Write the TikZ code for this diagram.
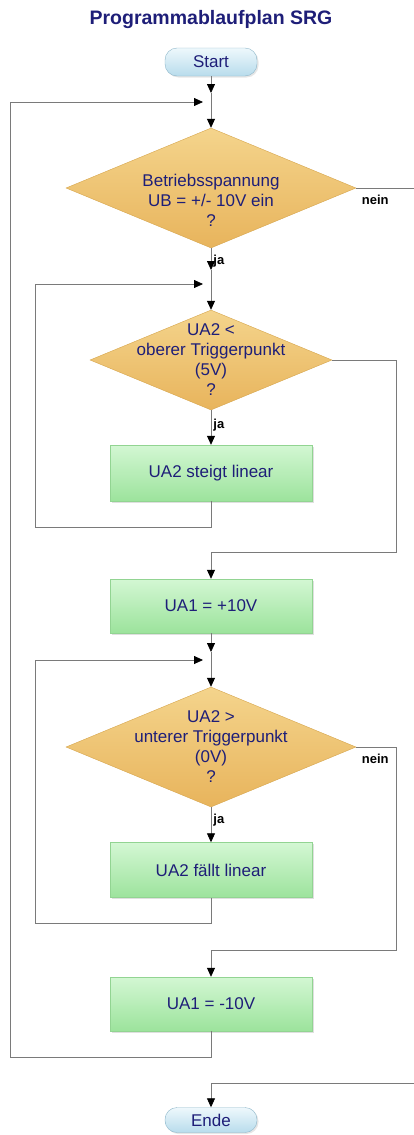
\documentclass[tikz,border=0pt]{standalone}
\usepackage{fontspec}
\setmainfont{Liberation Sans}
\usetikzlibrary{arrows.meta,shapes.geometric,shadows}

\definecolor{navy}{HTML}{1E1E78}
\definecolor{linegray}{HTML}{7A7A7A}
\definecolor{termtop}{HTML}{EEF8FC}
\definecolor{termbot}{HTML}{B8DCEC}
\definecolor{termline}{HTML}{8DB6C9}
\definecolor{dectop}{HTML}{F4D48C}
\definecolor{decbot}{HTML}{E8B45C}
\definecolor{decline}{HTML}{D6A54C}
\definecolor{proctop}{HTML}{D3F7D3}
\definecolor{procbot}{HTML}{9CE39C}
\definecolor{procline}{HTML}{92D492}

\tikzset{
  title/.style={text=navy, font=\bfseries\fontsize{19.5}{22}\selectfont},
  terminal/.style={draw=termline, rounded corners=12pt, top color=termtop,
    bottom color=termbot, minimum width=92pt, text=navy,
    font=\fontsize{17}{20}\selectfont,
    drop shadow={shadow xshift=1.5pt, shadow yshift=-1.5pt, opacity=0.2}},
  decision/.style={diamond, draw=decline, top color=dectop,
    bottom color=decbot, inner sep=0pt},
  dectext/.style={text=navy, align=center, font=\fontsize{17}{20}\selectfont},
  process/.style={rectangle, draw=procline, top color=proctop,
    bottom color=procbot, minimum width=202pt, text=navy,
    font=\fontsize{17}{20}\selectfont,
    drop shadow={shadow xshift=1.5pt, shadow yshift=-1.5pt, opacity=0.25}},
  line/.style={draw=linegray, line width=0.8pt},
  arr/.style={line, -{Triangle[width=8pt,length=9pt,color=black]}},
  lbl/.style={font=\bfseries\fontsize{13}{15}\selectfont, inner sep=1pt},
}

\begin{document}
\begin{tikzpicture}[x=1pt, y=-1pt]
    \useasboundingbox (0,0) rectangle (414,1135);

    % Knoten
    \node[title] (title) at (211,20) {Programmablaufplan SRG};
    \node[terminal, minimum height=28pt] (st) at (211,62) {Start};
    \node[decision, minimum width=290pt, minimum height=120pt,
      label={[dectext, yshift=-12pt]center:{Betriebsspannung\\UB = +/- 10V ein\\?}}]
      (d1) at (211,188) {};
    \node[decision, minimum width=242pt, minimum height=100pt,
      label={[dectext]center:{UA2 <\\oberer Triggerpunkt\\(5V)\\?}}]
      (d2) at (211,360) {};
    \node[process, minimum height=56pt] (b1) at (211,473) {UA2 steigt linear};
    \node[process, minimum height=54pt] (b2) at (211,606) {UA1 = +10V};
    \node[decision, minimum width=290pt, minimum height=120pt,
      label={[dectext]center:{UA2 >\\unterer Triggerpunkt\\(0V)\\?}}]
      (d3) at (211,747) {};
    \node[process, minimum height=55pt] (b3) at (211,870) {UA2 fällt linear};
    \node[process, minimum height=54pt] (b4) at (211,1004) {UA1 = -10V};
    \node[terminal, minimum height=25pt] (en) at (211,1120) {Ende};

    % Hilfspunkte
    \coordinate (a1) at (211,93);
    \coordinate (j1) at (211,102);
    \coordinate (a2) at (211,270);
    \coordinate (j2) at (211,284);
    \coordinate (a3) at (211,652);
    \coordinate (j3) at (211,660);
    \coordinate (l1) at (35,527);
    \coordinate (l2) at (35,923);
    \coordinate (l3) at (10,1057);
    \coordinate (r1) at (396,552);
    \coordinate (r2) at (396,950);
    \coordinate (e1) at (414,188);
    \coordinate (e2) at (414,1083);

    % Hauptlinie
    \draw[arr] (st) -- (a1);
    \draw[line] (a1) -- (j1);
    \draw[arr] (j1) -- (d1);
    \draw[arr] (d1) -- (a2) node[lbl, pos=0.6, right=1pt] {ja};
    \draw[line] (a2) -- (j2);
    \draw[arr] (j2) -- (d2);
    \draw[arr] (d2) -- (b1) node[lbl, pos=0.42, right=1pt] {ja};
    \draw[arr] (b2) -- (a3);
    \draw[line] (a3) -- (j3);
    \draw[arr] (j3) -- (d3);
    \draw[arr] (d3) -- (b3) node[lbl, pos=0.38, right=1pt] {ja};
    \draw[arr] (e2) -| (en);

    % Schleifen
    \draw[arr, shorten >=8pt] (b1) |- (l1) |- (j2);
    \draw[arr, shorten >=8pt] (b3) |- (l2) |- (j3);
    \draw[arr, shorten >=8pt] (b4) |- (l3) |- (j1);

    % nein-Zweige
    \draw[line] (d1.east) -- (e1) node[lbl, pos=0.33, below=6pt] {nein};
    \draw[arr] (d2.east) -| (r1) -| (b2);
    \draw[arr] (d3.east) -| (r2) -| (b4);
    \path (d3.east) -- (r2 |- d3.east) node[lbl, pos=0.48, below=6pt] {nein};
\end{tikzpicture}
\end{document}
